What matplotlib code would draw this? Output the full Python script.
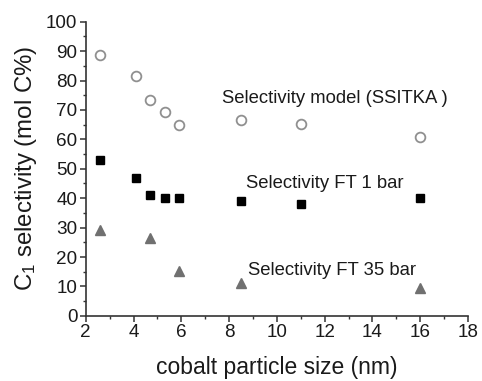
import matplotlib
matplotlib.use('Agg')
import matplotlib.pyplot as plt
from matplotlib.ticker import MultipleLocator

# data
size_model = [2.6, 4.1, 4.7, 5.3, 5.9, 8.5, 11, 16]
sel_model = [88.6, 81.6, 73.5, 69.4, 64.9, 66.5, 65.2, 60.8]

size_ft1 = [2.6, 4.1, 4.7, 5.3, 5.9, 8.5, 11, 16]
sel_ft1 = [53.1, 47.0, 41.1, 40.0, 40.0, 38.9, 38.0, 40.1]

size_ft35 = [2.6, 4.7, 5.9, 8.5, 16]
sel_ft35 = [29.2, 26.3, 15.2, 11.0, 9.4]

plt.rcParams['font.family'] = ['Liberation Sans', 'DejaVu Sans']
plt.rcParams['mathtext.fontset'] = 'custom'
plt.rcParams['mathtext.rm'] = 'Liberation Sans'
plt.rcParams['mathtext.it'] = 'Liberation Sans'

fig = plt.figure(figsize=(4.82, 3.81), dpi=100)
ax = fig.add_axes([0.178, 0.171, 0.793, 0.772])

ax.plot(size_model, sel_model, 'o', ms=7, mfc='white', mec='#909090', mew=1.3, ls='none')
ax.plot(size_ft1, sel_ft1, 's', ms=6, color='black', ls='none')
ax.plot(size_ft35, sel_ft35, '^', ms=6.5, color='#707070', ls='none')

ax.text(7.7, 74, 'Selectivity model (SSITKA )', fontsize=13.3, va='center', color='#1a1a1a')
ax.text(8.7, 45, 'Selectivity FT 1 bar', fontsize=13.3, va='center', color='#1a1a1a')
ax.text(8.8, 15.3, 'Selectivity FT 35 bar', fontsize=13.3, va='center', color='#1a1a1a')

ax.set_xlim(2, 18)
ax.set_ylim(0, 100)
ax.xaxis.set_major_locator(MultipleLocator(2))
ax.xaxis.set_minor_locator(MultipleLocator(1))
ax.yaxis.set_major_locator(MultipleLocator(10))
ax.yaxis.set_minor_locator(MultipleLocator(5))

for s in ['top', 'right']:
    ax.spines[s].set_visible(False)
for s in ['left', 'bottom']:
    ax.spines[s].set_linewidth(1.2)
    ax.spines[s].set_color('#333333')

ax.tick_params(which='major', direction='out', length=4, width=1.1, labelsize=13.6, pad=2, colors='#333333', labelcolor='#1a1a1a')
ax.tick_params(which='minor', direction='out', length=2.5, width=1.0, colors='#333333')

ax.set_xlabel('cobalt particle size (nm)', fontsize=16.5, color='#1a1a1a', labelpad=11)
ax.set_ylabel('C$_1$ selectivity (mol C%)', fontsize=17.3, color='#1a1a1a', labelpad=5)

plt.savefig('out.png', dpi=100)
plt.close()
